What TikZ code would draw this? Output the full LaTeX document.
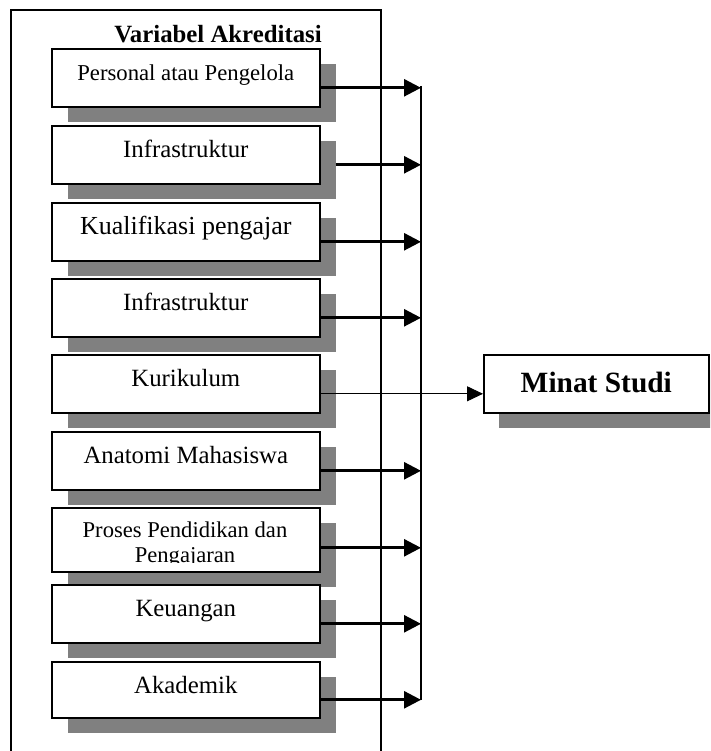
\documentclass[tikz,border=0pt]{standalone}
\usepackage{fontspec}
\setmainfont{Liberation Serif}
\usetikzlibrary{shadows,arrows.meta}
\definecolor{shadowgray}{HTML}{808080}
\tikzset{
  boxbase/.style={draw, line width=1.6pt, fill=white, inner sep=0pt, anchor=north west},
  box/.style={boxbase, minimum width=268pt, text height=32pt, text depth=26pt,
    font=\fontsize{24.8}{28}\selectfont,
    drop shadow={shadow xshift=16pt, shadow yshift=-15pt, fill=shadowgray, opacity=1}},
  bigbox/.style={boxbase, minimum width=225pt, text height=38pt, text depth=20pt,
    font=\bfseries\fontsize{29.4}{32}\selectfont,
    drop shadow={shadow xshift=15pt, shadow yshift=-15pt, fill=shadowgray, opacity=1}},
  arr/.style={line width=2.7pt, -{Triangle[length=17pt,width=17pt]}},
  thinarr/.style={line width=1pt, -{Triangle[length=16pt,width=15pt]}},
  framestyle/.style={draw, line width=1.6pt},
  bus/.style={line width=2.4pt},
}
\begin{document}
\begin{tikzpicture}[x=1pt,y=-1pt]
\useasboundingbox (0,0) rectangle (710,751);
\clip (0,0) rectangle (710,751);
% outer frame
\draw[framestyle] (11,10) rectangle (381,770);
\node[font=\bfseries\fontsize{24.8}{28}\selectfont, anchor=base, inner sep=0pt] (title) at (218,43) {Variabel Akreditasi};
% boxes
\node[box, font=\fontsize{22.7}{26}\selectfont] (b1) at (51,48) {Personal atau Pengelola};
\node[box] (b2) at (51,125) {Infrastruktur};
\node[box, font=\fontsize{26}{29}\selectfont] (b3) at (51,202) {Kualifikasi pengajar};
\node[box] (b4) at (51,278) {Infrastruktur};
\node[box] (b5) at (51,354) {Kurikulum};
\node[box] (b6) at (51,431) {Anatomi Mahasiswa};
\node[box, text height=32pt, text depth=32pt] (b7) at (51,507) {};
\begin{scope}
  \clip ([xshift=0.8pt,yshift=-0.8pt]b7.north west) rectangle ([xshift=-0.8pt,yshift=10pt]b7.south east);
  \node[anchor=base, inner sep=0pt, font=\fontsize{22.6}{25.5}\selectfont] (t7) at (185,537)
    {\vtop{\halign{\hfil#\hfil\cr Proses Pendidikan dan\cr Pengajaran\cr}}};
\end{scope}
\node[box] (b8) at (51,584) {Keuangan};
\node[box, text depth=24pt] (b9) at (51,661) {Akademik};
% target
\node[bigbox] (minat) at (483,354) {Minat Studi};
% connectors
\coordinate (busT) at (421,86);
\coordinate (busB) at (421,700);
\coordinate (p1) at ([yshift=-10pt]b1.east);
\coordinate (p2) at ([xshift=15pt,yshift=-10pt]b2.east);
\coordinate (p3) at ([yshift=-10pt]b3.east);
\coordinate (p4) at ([yshift=-10pt]b4.east);
\coordinate (p5) at ([yshift=-10pt]b5.east);
\coordinate (p6) at ([yshift=-10pt]b6.east);
\coordinate (p7) at ([yshift=-8pt]b7.east);
\coordinate (p8) at ([yshift=-10pt]b8.east);
\coordinate (p9) at ([yshift=-10pt]b9.east);
\foreach \p in {p1,p2,p3,p4,p6,p7,p8,p9}
  \draw[arr] (\p) -- (\p -| busT);
\draw[bus] (busT) -- (busB);
\draw[thinarr] (p5) -- (p5 -| minat.west);
\end{tikzpicture}
\end{document}
